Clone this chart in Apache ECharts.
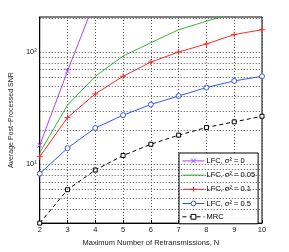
<!DOCTYPE html>
<html><head><meta charset="utf-8">
<script src="https://cdn.jsdelivr.net/npm/echarts@6/dist/echarts.min.js"></script>
<style>html,body{margin:0;padding:0;background:#fff}#c{width:289px;height:252px}</style>
</head><body><div id="c"></div>
<script>
const categories = [2, 3, 4, 5, 6, 7, 8, 9, 10];
const lfc0 = [14.8, 67.7, 290, 700, 1200, 1800, 2500, 3200, 4000];
const lfc005 = [12.7, 33.7, 60.8, 92, 121, 158, 188, 222, 255];
const lfc01 = [11.7, 26.1, 42.4, 60.8, 81.5, 100, 118, 143, 158];
const lfc05 = [8.25, 13.95, 21.1, 27.4, 34.1, 40.6, 48.3, 55.3, 60.8];
const mrc = [3.0, 5.95, 8.9, 12.0, 15.1, 18.2, 21.3, 23.9, 26.8];
const yGrid = [4, 5, 6, 7, 8, 9, 10, 20, 30, 40, 50, 60, 70, 80, 90, 100, 200];
const yLabels = [10, 100];
const names = ['LFC, σ² = 0', 'LFC, σ² = 0.05', 'LFC, σ² = 0.1', 'LFC, σ² = 0.5', 'MRC'];

const X = 'path://M0,0L10,10M10,0L0,10';
const P = 'path://M5,0L5,10M0,5L10,5';
const pair = a => a.map((v, i) => [categories[i], v]);

const chart = echarts.init(document.getElementById('c'));
function mk(name, data, color, symbol, size, dashed, extra) {
  return Object.assign({
    name, type: 'line', data: pair(data), symbol, symbolSize: size,
    showSymbol: symbol !== 'none',
    lineStyle: { color, width: 1, type: dashed ? [4, 3] : 'solid' },
    itemStyle: { color: symbol.startsWith('path') ? 'none' : '#fff', borderColor: color, borderWidth: 1 },
    emphasis: { disabled: true }, animation: false, clip: true, z: 3
  }, extra || {});
}
const font = 'Liberation Sans';
chart.setOption({
  animation: false,
  grid: { left: 37, right: 27, top: 17, bottom: 28, show: true, borderColor: '#000', borderWidth: 1, backgroundColor: 'transparent' },
  xAxis: {
    type: 'value', min: 2, max: 10, interval: 1,
    name: 'Maximum Number of Retransmissions, N', nameLocation: 'middle', nameGap: 13,
    nameTextStyle: { fontSize: 7.5, color: '#222', fontFamily: font },
    axisLine: { lineStyle: { color: '#000' } },
    axisTick: { inside: true, length: 3, lineStyle: { color: '#000' } },
    axisLabel: { fontSize: 7.5, color: '#222', margin: 3, fontFamily: font },
    splitLine: { show: true, lineStyle: { color: '#555', type: [1, 2], width: 1 } }
  },
  yAxis: {
    type: 'log', logBase: 10, min: 3, max: 205,
    name: 'Average Post−Processed SNR', nameLocation: 'middle', nameGap: 15,
    nameTextStyle: { fontSize: 7, color: '#222', fontFamily: font },
    axisLine: { lineStyle: { color: '#000' } },
    axisTick: { show: false },
    axisLabel: { show: true, customValues: yLabels, fontSize: 7.5, color: '#222', margin: 3, fontFamily: font,
      formatter: v => (Math.round(Math.log10(v)) === 1 ? '10¹' : '10²') },
    splitLine: { show: false }
  },
  legend: {
    left: 179, top: 153, width: 76, orient: 'vertical', itemGap: 5.3, itemWidth: 22, itemHeight: 6,
    padding: [3, 3, 3, 3], borderColor: '#000', borderWidth: 1, backgroundColor: '#fff',
    lineStyle: { width: 1 },
    itemStyle: { borderWidth: 1 },
    textStyle: { fontSize: 7.5, color: '#000', fontFamily: font, padding: [0, 0, 0, -3] },
    data: [
      { name: names[0] },
      { name: names[1], icon: 'path://M0,2.5L22,2.5L22,3.5L0,3.5Z', itemStyle: { color: '#33b833', borderWidth: 0 } },
      { name: names[2] },
      { name: names[3] },
      { name: names[4] }
    ]
  },
  series: [
    mk(names[0], lfc0, '#a844ff', X, 5, false, {
      markLine: { silent: true, symbol: 'none', label: { show: false }, animation: false,
        lineStyle: { color: '#555', type: [1, 2], width: 1 },
        data: yGrid.map(v => ({ yAxis: v })) }
    }),
    mk(names[1], lfc005, '#33b833', 'none', 4, false),
    mk(names[2], lfc01, '#ff2a2a', P, 6, false),
    mk(names[3], lfc05, '#3355ff', 'circle', 5, false),
    mk(names[4], mrc, '#000', 'rect', 4, true)
  ]
});
</script></body></html>
